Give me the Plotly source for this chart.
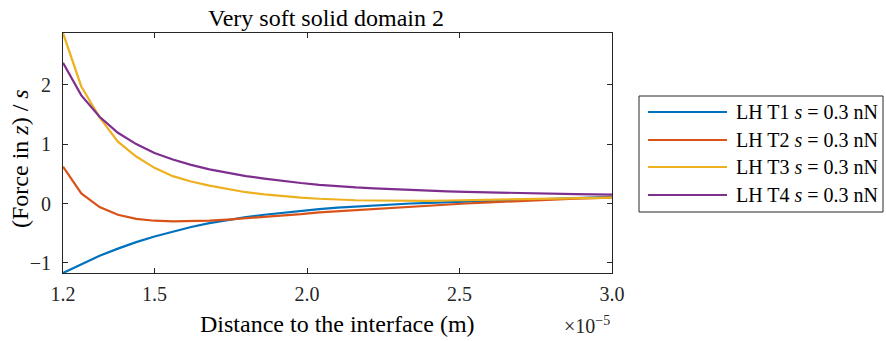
import plotly.graph_objects as go

# Distance to the interface, in units of 1e-5 m
dist = [1.20, 1.26, 1.32, 1.38, 1.44, 1.50, 1.56, 1.62, 1.68, 1.74, 1.80,
        1.86, 1.92, 1.98, 2.04, 2.10, 2.16, 2.22, 2.28, 2.34, 2.40, 2.46,
        2.52, 2.58, 2.64, 2.70, 2.76, 2.82, 2.88, 2.94, 3.00]

force_t1 = [-1.17, -1.02, -0.88, -0.76, -0.65, -0.555, -0.47, -0.395, -0.33, -0.275, -0.23,
            -0.19, -0.155, -0.125, -0.095, -0.07, -0.05, -0.03, -0.015, 0.0, 0.01, 0.02,
            0.03, 0.04, 0.05, 0.06, 0.07, 0.08, 0.09, 0.10, 0.11]
force_t2 = [0.62, 0.17, -0.06, -0.19, -0.26, -0.29, -0.30, -0.30, -0.29, -0.27, -0.25,
            -0.23, -0.20, -0.18, -0.15, -0.13, -0.11, -0.09, -0.07, -0.05, -0.035, -0.02,
            0.0, 0.015, 0.03, 0.045, 0.06, 0.07, 0.08, 0.09, 0.10]
force_t3 = [2.87, 1.97, 1.45, 1.04, 0.79, 0.60, 0.46, 0.37, 0.30, 0.24, 0.19,
            0.155, 0.125, 0.10, 0.08, 0.065, 0.055, 0.05, 0.045, 0.045, 0.045, 0.05,
            0.055, 0.06, 0.065, 0.07, 0.08, 0.085, 0.09, 0.095, 0.10]
force_t4 = [2.37, 1.82, 1.46, 1.19, 1.00, 0.85, 0.74, 0.65, 0.575, 0.515, 0.46,
            0.42, 0.38, 0.345, 0.315, 0.29, 0.27, 0.255, 0.24, 0.227, 0.215, 0.205,
            0.195, 0.187, 0.18, 0.174, 0.168, 0.163, 0.158, 0.154, 0.15]

series_names = ["LH T1", "LH T2", "LH T3", "LH T4"]
series_values = [force_t1, force_t2, force_t3, force_t4]
colors = ["#0072BD", "#D95319", "#EDB120", "#7E2F8E"]

x_tick_vals = [1.2, 1.5, 2.0, 2.5, 3.0]
x_tick_text = ["1.2", "1.5", "2.0", "2.5", "3.0"]
y_tick_vals = [-1, 0, 1, 2]
y_tick_text = ["\u22121", "0", "1", "2"]

FONT = "Liberation Serif, Times New Roman, serif"
FS_TICK = 20
FS_LABEL = 24
W, H = 886, 341
L, R, T, B = 63, 274, 33, 68
pw, ph = W - L - R, H - T - B


def px_x(px):
    return (px - L) / pw


def px_y(py):
    return (H - B - py) / ph


xs = [d * 1e-5 for d in dist]

fig = go.Figure()
for name, vals, col in zip(series_names, series_values, colors):
    fig.add_trace(go.Scatter(x=xs, y=vals, mode="lines", name=name,
                             line=dict(color=col, width=2.2), showlegend=False))

all_vals = [v for s in series_values for v in s]
axis_common = dict(showline=True, linecolor="#262626", linewidth=1, mirror="allticks",
                   ticks="inside", ticklen=5, tickcolor="#262626", showgrid=False,
                   zeroline=False, tickfont=dict(family=FONT, size=FS_TICK, color="#262626"))

fig.update_xaxes(range=[xs[0], xs[-1]], tickvals=[v * 1e-5 for v in x_tick_vals],
                 ticktext=x_tick_text, ticklabelstandoff=3, **axis_common)
fig.update_yaxes(range=[min(all_vals), max(all_vals)], tickvals=y_tick_vals,
                 ticktext=y_tick_text, ticklabelstandoff=7, **axis_common)

annotations = [
    dict(text="Very soft solid domain 2", x=px_x(326), y=px_y(18), xref="paper", yref="paper",
         yanchor="middle", showarrow=False, font=dict(family=FONT, size=FS_LABEL, color="#000")),
    dict(text="Distance to the interface (m)", x=0.5, y=px_y(324), xref="paper", yref="paper",
         yanchor="middle", showarrow=False, font=dict(family=FONT, size=FS_LABEL, color="#000")),
    dict(text="\u00d710<sup>\u22125</sup>", x=1.0, y=px_y(325), xref="paper", yref="paper",
         xanchor="right", yanchor="middle", showarrow=False,
         font=dict(family=FONT, size=FS_TICK, color="#262626")),
    dict(text="(Force in <i>z</i>) / <i>s</i>", x=px_x(20), y=px_y(159), xref="paper", yref="paper",
         xanchor="center", yanchor="middle", textangle=-90, showarrow=False,
         font=dict(family=FONT, size=FS_LABEL, color="#000")),
]

shapes = [
    dict(type="rect", xref="paper", yref="paper", x0=px_x(639), x1=px_x(883),
         y0=px_y(212), y1=px_y(96), line=dict(color="#262626", width=1), fillcolor="white"),
]

# legend entries
row_y = [112, 140, 167, 195]
for name, col, ry in zip(series_names, colors, row_y):
    shapes.append(dict(type="line", xref="paper", yref="paper", x0=px_x(648), x1=px_x(727),
                       y0=px_y(ry), y1=px_y(ry), line=dict(color=col, width=2.2)))
    annotations.append(dict(text=f"{name} <i>s</i> = 0.3 nN", x=px_x(734), y=px_y(ry),
                            xref="paper", yref="paper", xanchor="left", yanchor="middle",
                            showarrow=False, font=dict(family=FONT, size=20, color="#000")))

fig.update_layout(width=W, height=H, margin=dict(l=L, r=R, t=T, b=B),
                  paper_bgcolor="white", plot_bgcolor="white",
                  annotations=annotations, shapes=shapes, showlegend=False)

fig.write_html("out.html")
